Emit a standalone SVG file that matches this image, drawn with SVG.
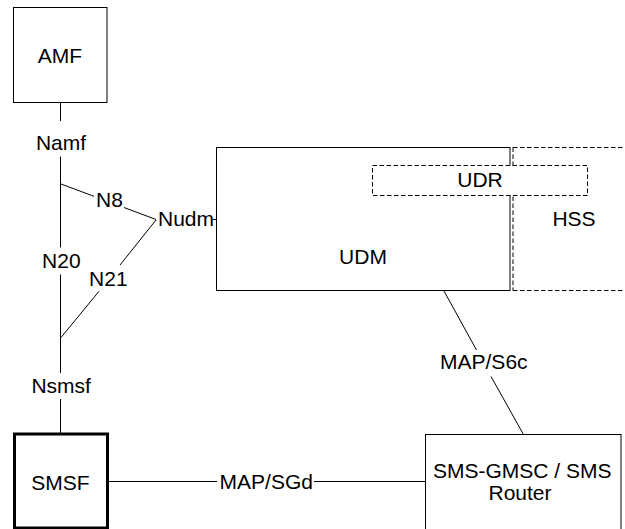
<svg xmlns="http://www.w3.org/2000/svg" width="625" height="529" viewBox="0 0 625 529">
<style>
.box{fill:#fff;stroke:#000;stroke-width:1}
.thick{fill:#fff;stroke:#000;stroke-width:3}
.dash{fill:none;stroke:#000;stroke-width:1;stroke-dasharray:4.5,2.5}
.dashw{fill:#fff;stroke:#000;stroke-width:1;stroke-dasharray:4.5,2.5}
.ln{fill:none;stroke:#000;stroke-width:1}
text{font-family:"Liberation Sans",Arial,sans-serif;font-size:21px;fill:#000;text-anchor:middle}
</style>
<rect width="625" height="529" fill="#fff"/>
<g id="connectors">
<line class="ln" x1="60.5" y1="103" x2="60.5" y2="121"/>
<line class="ln" x1="60.5" y1="156.5" x2="60.5" y2="247.5"/>
<line class="ln" x1="60.5" y1="274.5" x2="60.5" y2="373"/>
<line class="ln" x1="60.5" y1="399" x2="60.5" y2="433"/>
<line class="ln" x1="61" y1="184" x2="94" y2="196.3"/>
<line class="ln" x1="124" y1="207.5" x2="156" y2="219.5"/>
<line class="ln" x1="156" y1="220" x2="120" y2="265"/>
<line class="ln" x1="99" y1="291.3" x2="61" y2="337.5"/>
<line class="ln" x1="213" y1="219.5" x2="216.5" y2="219.5"/>
<line class="ln" x1="444" y1="291" x2="476.5" y2="350"/>
<line class="ln" x1="491" y1="376.5" x2="523.5" y2="434.5"/>
<line class="ln" x1="108" y1="481.5" x2="217" y2="481.5"/>
<line class="ln" x1="314" y1="481.5" x2="425.5" y2="481.5"/>
<text x="61" y="150">Namf</text>
<text x="109.5" y="207">N8</text>
<text x="186" y="226">Nudm</text>
<text x="61.3" y="268">N20</text>
<text x="108.3" y="286">N21</text>
<text x="61.2" y="392.7">Nsmsf</text>
<text x="266.3" y="489.3">MAP/SGd</text>
<text x="483.8" y="369.3">MAP/S6c</text>
</g>
<g id="AMF">
<rect class="box" x="13.5" y="7.5" width="93.5" height="95"/>
<text x="59.8" y="62.7">AMF</text>
</g>
<g id="HSS">
<path class="dash" d="M513 147.5 H625 M513 290.5 H625 M513 147.5 V290.5"/>
<text x="574" y="226">HSS</text>
</g>
<g id="UDM">
<rect class="box" x="216.5" y="147.5" width="293.5" height="143"/>
<text x="363" y="264.3">UDM</text>
</g>
<g id="UDR">
<rect class="dashw" x="372.5" y="165.5" width="215" height="30"/>
<text x="480" y="186.7">UDR</text>
</g>
<g id="SMSF">
<rect class="thick" x="14.5" y="434" width="93" height="94"/>
<text x="60.5" y="490">SMSF</text>
</g>
<g id="SMSGMSC">
<rect class="box" x="425.5" y="434.5" width="195.5" height="100"/>
<text x="522.3" y="477.7">SMS-GMSC / SMS</text>
<text x="520" y="500">Router</text>
</g>
</svg>
